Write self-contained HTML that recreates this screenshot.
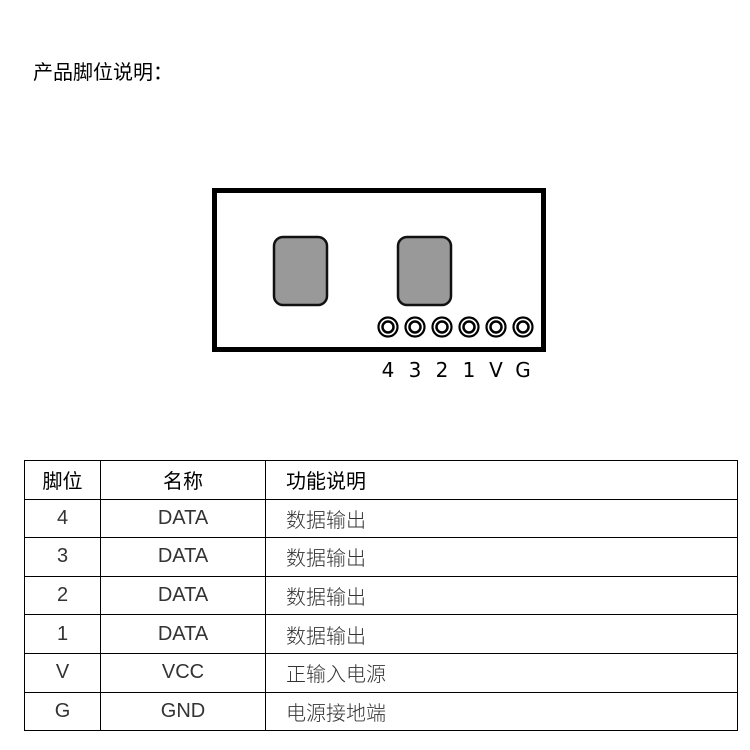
<!DOCTYPE html>
<html><head><meta charset="utf-8"><style>
body{margin:0;background:#fff;width:750px;height:750px;overflow:hidden;font-family:"Liberation Sans","Noto Sans CJK SC",sans-serif;}
.t{position:absolute;left:33px;top:56px;font-size:20px;color:#000;}
table{position:absolute;left:24px;top:460px;border-collapse:collapse;width:714px;}
td{border:1px solid #000;height:37.6px;padding:0;font-size:20px;font-weight:300;color:#333;}
td.c{text-align:center;}
td.l{padding-left:20px;}
</style></head><body>
<div class="t">产品脚位说明：</div>
<svg width="750" height="400" style="position:absolute;left:0;top:0">
<rect x="214.5" y="190.5" width="329" height="159" fill="#fff" stroke="#000" stroke-width="5"/>
<rect x="274" y="237" width="53" height="68" rx="9" fill="#999" stroke="#111" stroke-width="2.5"/>
<rect x="398" y="237" width="53" height="68" rx="9" fill="#999" stroke="#111" stroke-width="2.5"/>
<g fill="none" stroke="#000">
<g stroke-width="2.2">
<circle cx="388" cy="327" r="9.5"/><circle cx="415" cy="327" r="9.5"/><circle cx="442" cy="327" r="9.5"/><circle cx="469" cy="327" r="9.5"/><circle cx="496" cy="327" r="9.5"/><circle cx="523" cy="327" r="9.5"/>
</g><g stroke-width="2.5">
<circle cx="388" cy="327" r="5.5"/><circle cx="415" cy="327" r="5.5"/><circle cx="442" cy="327" r="5.5"/><circle cx="469" cy="327" r="5.5"/><circle cx="496" cy="327" r="5.5"/><circle cx="523" cy="327" r="5.5"/>
</g></g>
<g font-family="DejaVu Sans, sans-serif" font-size="20" text-anchor="middle" fill="#000">
<text x="388" y="377">4</text><text x="415" y="377">3</text><text x="442" y="377">2</text><text x="469" y="377">1</text><text x="496" y="377">V</text><text x="523" y="377">G</text>
</g>
</svg>
<table>
<tr><td class="c" style="width:75px;font-weight:400;color:#000">脚位</td><td class="c" style="width:164px;font-weight:400;color:#000">名称</td><td class="l" style="font-weight:400;color:#000">功能说明</td></tr>
<tr><td class="c">4</td><td class="c">DATA</td><td class="l">数据输出</td></tr>
<tr><td class="c">3</td><td class="c">DATA</td><td class="l">数据输出</td></tr>
<tr><td class="c">2</td><td class="c">DATA</td><td class="l">数据输出</td></tr>
<tr><td class="c">1</td><td class="c">DATA</td><td class="l">数据输出</td></tr>
<tr><td class="c">V</td><td class="c">VCC</td><td class="l">正输入电源</td></tr>
<tr><td class="c">G</td><td class="c">GND</td><td class="l">电源接地端</td></tr>
</table>
</body></html>
